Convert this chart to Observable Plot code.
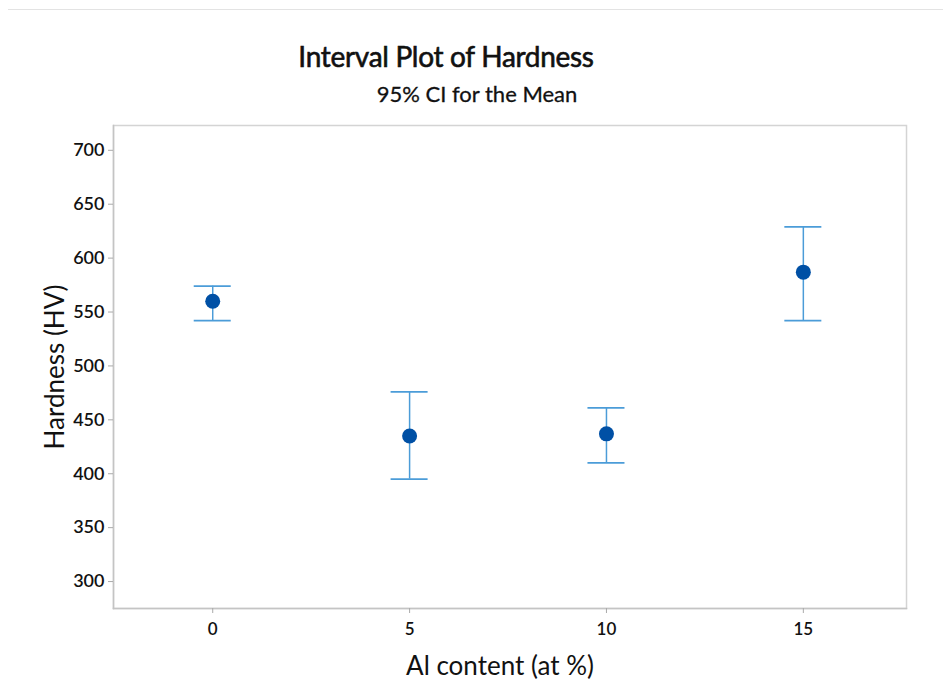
<!DOCTYPE html>
<html>
<head>
<meta charset="utf-8">
<script src="https://cdn.jsdelivr.net/npm/d3@7"></script>
<script src="https://cdn.jsdelivr.net/npm/@observablehq/plot@0.6"></script>
<style>
  body { margin: 0; background: #fff; }
  #wrap { position: relative; width: 943px; height: 700px; overflow: hidden; background: #fff; }
  #topline { position: absolute; left: 8px; right: 0; top: 9px; height: 0; border-top: 1.5px solid #e3e3e3; }
  .ttl { position: absolute; white-space: nowrap; transform: translateX(-50%); font-family: Lato, "Open Sans", sans-serif; color: #111; }
  #title { left: 446px; top: 39px; font-size: 28px; font-weight: 400; -webkit-text-stroke: 0.6px #111; letter-spacing: -0.3px; }
  #subtitle { left: 477px; top: 80px; font-size: 22px; font-weight: 400; -webkit-text-stroke: 0.3px #111; }
  #chart { position: absolute; left: 0; top: 110px; }
</style>
</head>
<body>
<div id="wrap">
  <div id="topline"></div>
  <div id="title" class="ttl">Interval Plot of Hardness</div>
  <div id="subtitle" class="ttl">95% CI for the Mean</div>
  <div id="chart"></div>
</div>
<script>
// Data
const alContent = [0, 5, 10, 15];
const meanHV   = [560, 435, 437, 587];
const lowerHV  = [542, 395, 410, 542];
const upperHV  = [574, 476, 461, 629];
const yTicks   = [300, 350, 400, 450, 500, 550, 600, 650, 700];
const xTicks   = [0, 5, 10, 15];

const rows = alContent.map((a, i) => ({al: a, mean: meanHV[i], lo: lowerHV[i], hi: upperHV[i]}));
const capHalf = 0.47;
const ciColor = "#4b9cd8";
const dotColor = "#0050a5";

const plot = Plot.plot({
  width: 943,
  height: 590,
  marginTop: 15,
  marginBottom: 92,
  marginLeft: 113,
  marginRight: 37,
  style: {fontFamily: "Lato, 'Open Sans', sans-serif", background: "#fff"},
  x: {domain: [-2.52, 17.62]},
  y: {domain: [275, 723]},
  marks: [
    Plot.frame({stroke: "#d4d4d4", strokeWidth: 1.5}),
    Plot.frame({anchor: "bottom", stroke: "#c4c4c4", strokeWidth: 1.5}),
    Plot.frame({anchor: "left", stroke: "#c4c4c4", strokeWidth: 1.5}),
    Plot.axisY(yTicks, {
      anchor: "left", tickSize: 5, tickPadding: 4, stroke: "#aaa",
      fontSize: 18, fontWeight: 600, fill: "#111",
      label: "Hardness (HV)", labelAnchor: "center", labelOffset: 68, labelArrow: false
    }),
    Plot.axisX(xTicks, {
      anchor: "bottom", tickSize: 5, tickPadding: 9, stroke: "#aaa",
      fontSize: 17, fontWeight: 600, fill: "#111",
      label: "Al content (at %)", labelAnchor: "center", labelOffset: 66, labelArrow: false
    }),
    Plot.ruleX(rows, {x: "al", y1: "lo", y2: "hi", stroke: ciColor, strokeWidth: 1.5}),
    Plot.ruleY(rows, {y: "hi", x1: d => d.al - capHalf, x2: d => d.al + capHalf, stroke: ciColor, strokeWidth: 1.8}),
    Plot.ruleY(rows, {y: "lo", x1: d => d.al - capHalf, x2: d => d.al + capHalf, stroke: ciColor, strokeWidth: 1.8}),
    Plot.dot(rows, {x: "al", y: "mean", r: 7.5, fill: dotColor, stroke: "none"})
  ]
});

// larger axis-label font
plot.querySelectorAll("[aria-label='y-axis label'] text, [aria-label='x-axis label'] text").forEach(t => {
  t.setAttribute("font-size", "26");
  t.setAttribute("font-weight", "400");
});
plot.querySelectorAll("[aria-label='x-axis label'] text").forEach(t => t.setAttribute("dx", "-10"));
document.getElementById("chart").appendChild(plot);
</script>
</body>
</html>
